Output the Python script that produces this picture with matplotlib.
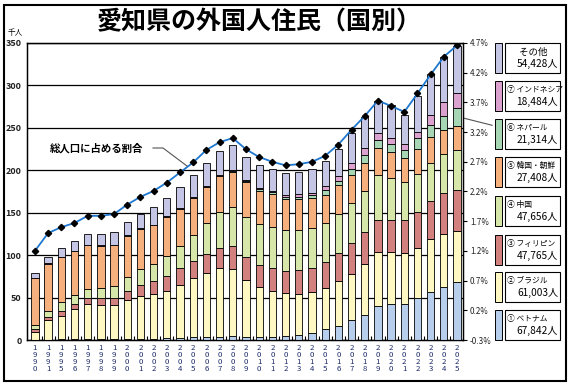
import numpy as np
import matplotlib
matplotlib.use("Agg")
from matplotlib import pyplot as plt
from matplotlib.patches import Rectangle

plt.rcParams['font.family'] = ['Noto Sans CJK JP', 'DejaVu Sans']

years = [1990, 1991] + list(range(1995, 2026))

# 千人
vietnam = [0.3, 0.4, 0.6, 0.7, 0.8, 0.9, 1.0, 1.1, 1.2, 1.4, 2.0, 2.2, 3.0, 3.0, 4.0, 5.0,
           4.0, 4.0, 4.0, 5.0, 6.0, 8.0, 12.6, 16.5, 23.6, 30.0, 40.0, 42.0, 43.0, 49.0,
           57.0, 63.0, 67.842]
brazil = [9.7, 23.1, 27.4, 36.3, 42.2, 40.1, 40.0, 45.9, 50.8, 53.1, 56.0, 62.8, 70.0, 76.0,
          81.0, 79.0, 66.6, 59.0, 54.0, 50.5, 48.5, 48.0, 48.4, 53.0, 54.4, 60.0, 64.0, 62.0,
          59.0, 60.0, 61.6, 61.5, 61.003]
philippines = [3.0, 3.5, 6.0, 6.0, 7.0, 8.0, 9.0, 11.0, 13.0, 15.5, 18.0, 20.0, 20.0, 22.5,
               23.6, 26.6, 27.4, 25.6, 27.0, 26.0, 28.0, 28.5, 30.5, 32.5, 36.0, 37.6, 38.0,
               38.0, 40.0, 42.0, 45.4, 48.5, 47.765]
china = [5.0, 7.0, 11.0, 9.5, 10.0, 12.0, 14.0, 16.0, 19.0, 20.0, 23.0, 26.0, 31.0, 36.5,
         42.4, 46.3, 47.0, 48.4, 48.0, 48.5, 47.5, 47.1, 46.0, 47.0, 48.0, 48.4, 52.0, 48.5,
         44.0, 45.0, 45.0, 46.0, 47.656]
korea = [55.0, 56.0, 53.0, 52.5, 52.0, 50.0, 48.0, 49.0, 47.0, 45.0, 46.0, 43.5, 43.0, 42.0,
         42.0, 41.0, 41.0, 39.0, 39.5, 36.0, 36.0, 35.4, 33.5, 33.6, 32.0, 33.0, 32.0, 30.5,
         29.0, 28.7, 30.0, 28.5, 27.408]
nepal = [0.1, 0.1, 0.1, 0.1, 0.1, 0.1, 0.1, 0.2, 0.2, 0.3, 0.3, 0.4, 0.5, 0.6, 0.8, 1.0,
         1.2, 1.5, 2.0, 3.0, 3.0, 3.5, 6.0, 4.4, 7.5, 9.0, 10.0, 9.5, 9.0, 12.9, 14.0, 16.5,
         21.314]
indonesia = [0.1, 0.1, 0.2, 0.2, 0.3, 0.3, 0.3, 0.4, 0.5, 0.6, 0.7, 0.8, 0.9, 1.0, 1.2, 1.3,
             1.3, 1.4, 1.5, 2.0, 3.0, 3.1, 4.5, 6.0, 7.5, 8.0, 7.5, 7.1, 6.5, 7.9, 12.0, 17.0,
             18.484]
other = [5.8, 7.8, 10.7, 11.7, 12.6, 13.6, 14.6, 15.4, 17.3, 21.1, 21.0, 24.3, 26.1, 27.0,
         28.0, 29.8, 27.5, 27.8, 25.6, 25.5, 26.0, 27.9, 29.5, 32.0, 34.5, 37.0, 38.5, 39.4,
         34.5, 41.5, 48.0, 53.0, 54.428]
# 総人口に占める割合 (%)
ratio = [1.20, 1.50, 1.60, 1.67, 1.79, 1.79, 1.82, 1.98, 2.11, 2.21, 2.35, 2.52, 2.69, 2.90,
         3.03, 3.10, 2.91, 2.78, 2.70, 2.64, 2.66, 2.70, 2.80, 2.99, 3.24, 3.47, 3.73, 3.64,
         3.54, 3.85, 4.17, 4.47, 4.66]

series = [vietnam, brazil, philippines, china, korea, nepal, indonesia, other]
colors = ['#b7cfec', '#fff8c2', '#d2817f', '#d7e7a9', '#f6b07e', '#a6d6b3', '#dca2cf', '#c5c5e6']
legend_top = ['① ベトナム', '② ブラジル', '③ フィリピン', '④ 中国', '⑤ 韓国・朝鮮',
              '⑥ ネパール', '⑦ インドネシア', 'その他']
legend_num = ['67,842人', '61,003人', '47,765人', '47,656人', '27,408人',
              '21,314人', '18,484人', '54,428人']

W, H = 570, 385


def px(x, y):
    return x / W, 1 - y / H


fig = plt.figure(figsize=(5.7, 3.85), dpi=100)
fig.patches.append(Rectangle((4 / W, 4 / H), 562 / W, 376 / H, transform=fig.transFigure,
                             fill=False, ec='black', lw=1.5))

ax = fig.add_axes([27 / W, 1 - 340 / H, 436 / W, 297 / H])
x = np.arange(len(years))
bottom = np.zeros(len(years))
for vals, c in zip(series, colors):
    ax.bar(x, vals, 0.55, bottom=bottom, color=c, edgecolor='black', linewidth=0.6, zorder=3)
    bottom += np.array(vals)

ax.set_xlim(-0.6, len(years) - 0.55)
ax.set_ylim(0, 350)
ax.set_yticks(range(0, 351, 50))
ax.set_axisbelow(True)
ax.yaxis.grid(True, color='black', lw=0.9)
for gl in ax.get_ygridlines():
    gl.set_zorder(0)
ax.tick_params(axis='y', length=0, labelsize=6.5, pad=4, colors='#222222')
for lb in ax.get_yticklabels():
    lb.set_fontweight('bold')
ax.set_xticks(x)
ax.set_xticklabels(['\n'.join(str(y)) for y in years], fontsize=5.6, linespacing=0.8,
                   color='#1c2a6a')
ax.tick_params(axis='x', length=0, pad=3)
ax.set_xticks(x[:-1] + 0.5, minor=True)
ax.tick_params(axis='x', which='minor', direction='in', length=3, width=0.8)
for s in ax.spines.values():
    s.set_linewidth(1.0)

ax2 = ax.twinx()
ax2.set_ylim(-0.3, 4.7)
ax2.set_yticks(np.arange(-0.3, 4.71, 0.5))
ax2.set_yticklabels([f'{v:.1f}%' for v in np.arange(-0.3, 4.71, 0.5)], fontsize=5.8,
                    color='#222222')
ax2.tick_params(axis='y', length=3, width=0.8, pad=2)
ax2.plot(x, ratio, color='#1f78d0', lw=1.3, marker='D', markersize=3.2,
         markerfacecolor='black', markeredgecolor='black', zorder=5)

fig.text(*px(259, 22), '愛知県の外国人住民（国別）', fontsize=18, fontweight='bold',
         ha='center', va='center')
fig.text(*px(8, 33), '千人', fontsize=5.5, ha='left', va='center')

# annotation for the ratio line
fig.text(*px(50, 148), '総人口に占める割合', fontsize=7.5, fontweight='bold',
         ha='left', va='center')
fig.lines.append(plt.Line2D([153 / W, 163 / W, 187 / W], [1 - 148 / H, 1 - 148 / H, 1 - 166 / H],
                            transform=fig.transFigure, color='#555555', lw=0.8))

# leader from nepal segment to its legend box
nep_mid = sum(s[-1] for s in series[:5]) + nepal[-1] / 2
ax.annotate('', xy=(x[-1] + 0.28, nep_mid), xycoords='data',
            xytext=px(495, 126), textcoords='figure fraction',
            arrowprops=dict(arrowstyle='-', color='#555555', lw=0.8), annotation_clip=False)

# legend boxes
tops = [310, 272, 235, 196, 157, 119, 81, 43]
for top, c, t1, t2 in zip(tops, colors, legend_top, legend_num):
    fig.patches.append(Rectangle(px(495, top + 30), 7 / W, 30 / H, transform=fig.transFigure,
                                 fc=c, ec='black', lw=0.7))
    fig.patches.append(Rectangle(px(505, top + 30), 55 / W, 30 / H, transform=fig.transFigure,
                                 fc='white', ec='black', lw=0.8))
    if t1 == 'その他':
        fig.text(*px(533, top + 9), t1, fontsize=6.8, ha='center', va='center')
    else:
        fig.text(*px(507, top + 9), t1, fontsize=5.6, ha='left', va='center')
    fig.text(*px(558, top + 21), t2, fontsize=7.3, ha='right', va='center')

fig.savefig('out.png', dpi=100)
